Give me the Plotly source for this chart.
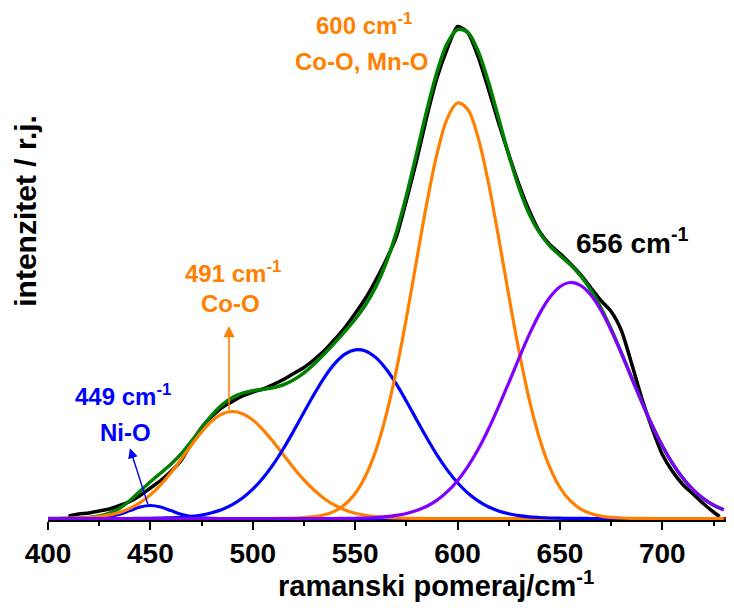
import numpy as np
import plotly.graph_objects as go

# Raman shift grid for fitted components (cm-1)
shift = list(range(400, 735, 5))

# Fitted components (arbitrary intensity units)
ni_o_449 = [0, 0, 0, 0, 0.1, 0.6, 1.8, 4.2, 7.9, 11.5, 13, 11.5, 7.9, 4.2, 1.8, 0.6, 0.1] + [0] * 50
co_o_491 = [0, 0.1, 0.2, 0.5, 1.0, 2.0, 3.6, 6.1, 10.1, 15.8, 23.6, 33.6, 45.7, 59.3, 73.3, 86.5,
            97.4, 104.5, 107, 104.8, 98.5, 88.7, 76.7, 63.6, 50.6, 38.6, 28.2, 19.8, 13.3, 8.6,
            5.3, 3.2, 1.8, 1.0, 0.5, 0.25, 0.1] + [0] * 30
band_551 = [0] * 9 + [0.1, 0.2, 0.4, 0.7, 1.2, 2.1, 3.5, 5.8, 9.1, 13.9, 20.5, 29.3, 40.5, 54.1,
            70.0, 87.7, 106.2, 124.5, 141.2, 154.9, 164.4, 168.7, 167.6, 161.1, 149.8, 134.8,
            117.3, 98.8, 80.5, 63.4, 48.4, 35.7, 25.5, 17.6, 11.7, 7.6, 4.8, 2.9, 1.7, 1.0, 0.5,
            0.3, 0.15, 0.1] + [0] * 14
co_mn_600 = [0] * 23 + [0.15, 0.35, 0.8, 1.8, 3.7, 7.4, 14.0, 25.0, 42.2, 67.5, 102.4, 147.1,
             200.2, 258.2, 315.4, 364.9, 400.1, 415.5, 408.9, 381.1, 336.5, 281.5, 223.1, 167.5,
             119.1, 80.3, 51.3, 31.0, 17.8, 9.6, 5.0, 2.4, 1.1, 0.5, 0.2, 0.1] + [0] * 8
band_656 = [0] * 29 + [0.1, 0.25, 0.5, 1.0, 1.8, 3.1, 5.0, 8.0, 12.3, 18.4, 26.8, 37.8, 51.8,
            68.9, 89.0, 111.6, 135.7, 160.3, 183.8, 204.6, 221.0, 231.8, 236.0, 233.2, 223.7,
            208.3, 188.3, 165.2, 140.7, 116.3, 93.3, 72.7, 55.0, 40.4, 28.8, 19.9, 13.4, 8.7]

# Measured spectrum
meas_shift = list(range(410, 730, 5)) + [728]
meas_int = [2.5, 4.5, 5.5, 7.5, 9.5, 13, 17, 23, 30.5, 38, 47, 58, 75, 91, 102, 111, 117, 122.5,
            126.5, 129.5, 134, 139, 145, 151, 159, 168, 179, 191, 205, 220, 238, 258, 281, 318,
            358, 402, 441, 470, 492, 486, 462, 430, 396, 364, 334, 308, 287, 274, 265, 255, 244,
            231, 218, 207, 188, 155, 120, 90, 64, 47, 34, 24.5, 15, 6.5, 2]

x_range = [400, 735]
x_ticks = [400, 450, 500, 550, 600, 650, 700]

# cumulative fit = sum of components
fit = (np.array(ni_o_449) + np.array(co_o_491) + np.array(band_551)
       + np.array(co_mn_600) + np.array(band_656))

ORANGE = "#FF8000"
BLUE = "#0000FF"
PURPLE = "#8000FF"
GREEN = "#008000"
FONT = "Liberation Sans, Arial, sans-serif"

fig = go.Figure()
fig.add_trace(go.Scatter(x=meas_shift, y=meas_int, mode="lines",
                         line=dict(color="black", width=3.5, shape="spline", smoothing=0.6)))
fig.add_trace(go.Scatter(x=shift, y=fit, mode="lines",
                         line=dict(color=GREEN, width=3.5, shape="spline", smoothing=0.9)))
fig.add_trace(go.Scatter(x=x_range, y=[0, 0], mode="lines",
                         line=dict(color="#A00000", width=3)))
for ys, col in [(ni_o_449, BLUE), (co_o_491, ORANGE), (band_551, BLUE),
                (co_mn_600, ORANGE), (band_656, PURPLE)]:
    fig.add_trace(go.Scatter(x=shift[:len(ys)], y=ys, mode="lines",
                             line=dict(color=col, width=3.2, shape="spline", smoothing=1.0)))

ann = []
def label(text, x, y, color, size):
    ann.append(dict(x=x, y=y, xref="x", yref="y", text=text, showarrow=False,
                    font=dict(family=FONT, size=size, color=color, weight="bold"),
                    xanchor="center", yanchor="middle"))

label("600 cm<sup>-1</sup>", 554.3, 494.5, ORANGE, 24)
label("Co-O, Mn-O", 553.3, 457.5, ORANGE, 24)
label("491 cm<sup>-1</sup>", 490.5, 246.5, ORANGE, 24)
label("Co-O", 488.9, 215.5, ORANGE, 24)
label("449 cm<sup>-1</sup>", 436.4, 123.5, BLUE, 24)
label("Ni-O", 437.8, 86.5, BLUE, 24)
label("656 cm<sup>-1</sup>", 685.4, 278, "black", 28)

ann.append(dict(x=488.4, y=192.5, ax=488.4, ay=106.8, xref="x", yref="y", axref="x", ayref="y",
                text="", showarrow=True, arrowhead=2, arrowsize=1.4, arrowwidth=1.6,
                arrowcolor=ORANGE, standoff=0))
ann.append(dict(x=440.0, y=70.2, ax=449.0, ay=12.8, xref="x", yref="y", axref="x", ayref="y",
                text="", showarrow=True, arrowhead=2, arrowsize=1.4, arrowwidth=1.4,
                arrowcolor=BLUE, standoff=0))

ann.append(dict(x=0.565, y=-0.125, xref="paper", yref="paper",
                text="ramanski pomeraj/cm<sup>-1</sup>", showarrow=False,
                font=dict(family=FONT, size=29, color="black", weight="bold"),
                xanchor="center", yanchor="middle"))
ann.append(dict(x=-0.0328, y=0.605, xref="paper", yref="paper",
                text="intenzitet / r.j.", showarrow=False, textangle=-90,
                font=dict(family=FONT, size=30, color="black", weight="bold"),
                xanchor="center", yanchor="middle"))

# page body has an 8px default margin, so the figure is offset by 8px
fig.update_layout(
    width=726, height=600,
    margin=dict(l=40, r=0, t=0, b=88),
    paper_bgcolor="white", plot_bgcolor="white",
    showlegend=False,
    annotations=ann,
    xaxis=dict(range=x_range, tickvals=x_ticks, ticks="outside", ticklen=8, tickwidth=1.5,
               tickcolor="black", showline=True, linecolor="black", linewidth=1.5,
               showgrid=False, zeroline=False,
               tickfont=dict(family=FONT, size=28, color="black", weight="bold"),
               minor=dict(tickvals=[425, 475, 525, 575, 625, 675, 725], ticks="outside",
                          ticklen=4, tickwidth=1.5, tickcolor="black", showgrid=False)),
    yaxis=dict(range=[-1.5, 510.5], showticklabels=False, showline=False, showgrid=False,
               zeroline=False, ticks=""),
)

fig.write_html("out.html")
